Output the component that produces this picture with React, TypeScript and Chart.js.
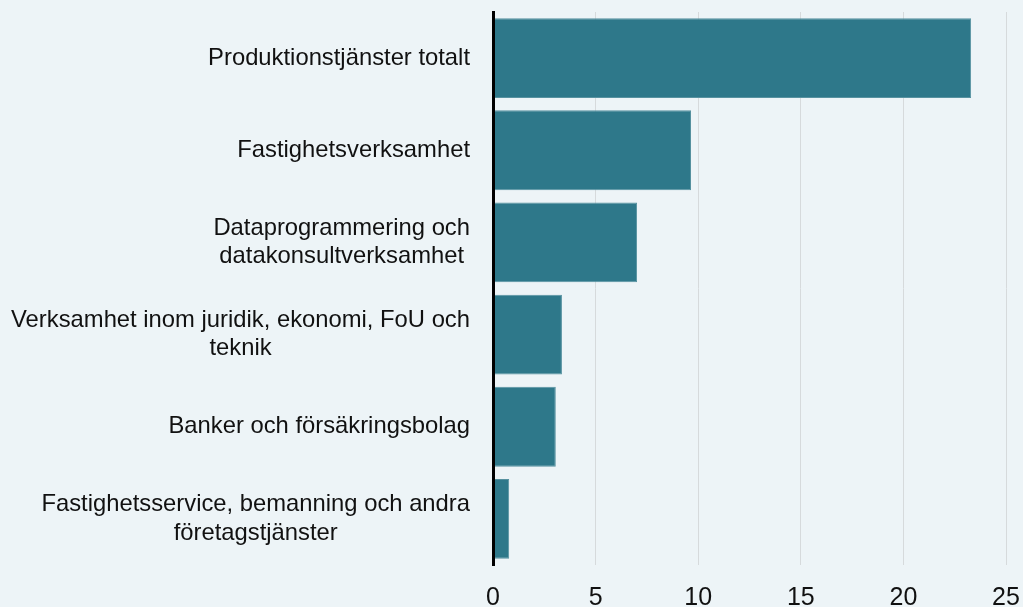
import React, { useEffect, useRef } from 'react';
import { Chart, registerables } from 'chart.js';

Chart.register(...registerables);

const categories: (string | string[])[] = [
  'Produktionstjänster totalt',
  'Fastighetsverksamhet',
  ['Dataprogrammering och', 'datakonsultverksamhet'],
  ['Verksamhet inom juridik, ekonomi, FoU och', 'teknik'],
  'Banker och försäkringsbolag',
  ['Fastighetsservice, bemanning och andra', 'företagstjänster'],
];
const values: number[] = [23.3, 9.65, 7.02, 3.36, 3.06, 0.79];
const xMin = 0;
const xMax = 25;
const xStep = 5;

const BG = '#edf4f7';
const BAR = '#2e788a';
const FONT = '"Liberation Sans", Arial, Helvetica, sans-serif';

const categoryLabelPlugin = {
  id: 'categoryLabels',
  afterDraw(chart: any) {
    const ys = chart.scales.y;
    const ctx = chart.ctx as CanvasRenderingContext2D;
    const right = chart.chartArea.left - 23;
    const lineH = 28.5;
    ctx.save();
    ctx.font = `23.8px ${FONT}`;
    ctx.fillStyle = '#111111';
    ctx.textAlign = 'center';
    ctx.textBaseline = 'middle';
    categories.forEach((c, i) => {
      const lines = Array.isArray(c) ? c : [c];
      const w = Math.max(...lines.map((l) => ctx.measureText(l).width));
      const cx = right - w / 2;
      const cy = ys.getPixelForValue(i);
      lines.forEach((l, j) => {
        ctx.fillText(l, cx, cy + (j - (lines.length - 1) / 2) * lineH);
      });
    });
    ctx.restore();
  },
};

export default function App() {
  const ref = useRef<HTMLCanvasElement | null>(null);

  useEffect(() => {
    document.body.style.margin = '0';
    document.body.style.background = BG;
    if (!ref.current) return;
    const chart = new Chart(ref.current, {
      type: 'bar',
      data: {
        labels: categories.map((c) => (Array.isArray(c) ? c.join(' ') : c)),
        datasets: [
          {
            data: values,
            backgroundColor: BAR,
            borderColor: '#5792a0',
            borderWidth: 1,
            barPercentage: 0.867,
            categoryPercentage: 1,
          },
        ],
      },
      options: {
        indexAxis: 'y',
        animation: false,
        responsive: false,
        maintainAspectRatio: false,
        layout: { padding: { top: 12, right: 17, left: 0, bottom: 0 } },
        plugins: {
          legend: { display: false },
          tooltip: { enabled: false },
        },
        scales: {
          x: {
            type: 'linear',
            min: xMin,
            max: xMax,
            ticks: {
              stepSize: xStep,
              color: '#111111',
              font: { family: FONT, size: 25 },
              padding: 18,
            },
            grid: { color: '#d6dadc', lineWidth: 1, drawTicks: false },
            border: { display: false },
            afterFit: (s: any) => {
              s.height = 42;
              s.paddingLeft = 0;
              s.paddingRight = 0;
            },
          },
          y: {
            type: 'category',
            ticks: { display: false },
            grid: { display: false, drawTicks: false },
            border: { display: true, color: '#000000', width: 3, z: 1 },
            afterFit: (s: any) => {
              s.width = 493;
              s.paddingTop = 0;
              s.paddingBottom = 0;
            },
          },
        },
      },
      plugins: [categoryLabelPlugin],
    });
    return () => chart.destroy();
  }, []);

  return (
    <div style={{ position: 'absolute', left: 0, top: 0, width: 1023, height: 607, background: BG }}>
      <canvas ref={ref} width={1023} height={607} style={{ display: 'block' }} />
    </div>
  );
}
